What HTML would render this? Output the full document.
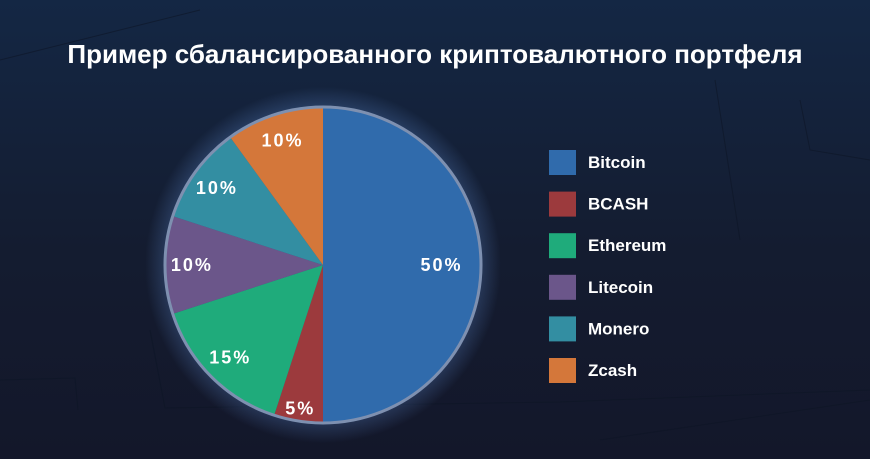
<!DOCTYPE html>
<html><head><meta charset="utf-8"><style>
body{margin:0;width:870px;height:459px;overflow:hidden;background:linear-gradient(180deg,#142744 0%,#141c30 55%,#13172a 100%);font-family:"Liberation Sans",sans-serif;position:relative}
svg{position:absolute;left:0;top:0}
</style></head><body>
<svg width="870" height="459" id="chart">
<defs>
<radialGradient id="glow" cx="50%" cy="50%" r="50%">
<stop offset="80%" stop-color="#5d8ad0" stop-opacity="0.45"/>
<stop offset="100%" stop-color="#5d8ad0" stop-opacity="0"/>
</radialGradient>
</defs>
<g stroke="#0e1626" stroke-width="1" fill="none" opacity="0.6">
<path d="M0 380 L75 378 L78 410"/><path d="M150 330 L165 408 L560 402 L870 390"/>
<path d="M715 80 L740 240 M800 100 L810 150 L870 160"/><path d="M0 60 L200 10"/><path d="M600 440 L870 400"/>
</g>
<circle cx="323" cy="265" r="178" fill="url(#glow)"/>
<text x="435" y="63" text-anchor="middle" fill="#ffffff" font-size="26" font-weight="bold">Пример сбалансированного криптовалютного портфеля</text>
<g id="slices"></g>
<circle cx="323" cy="265" r="158" fill="none" stroke="#7e90b0" stroke-width="3"/>
<g id="labels"></g>
<g id="legend"></g>
</svg>
<script>
const categories=["Bitcoin","BCASH","Ethereum","Litecoin","Monero","Zcash"];
const values=[50,5,15,10,10,10];
const colors=["#306bac","#9c3a3d","#1fab7b","#6b568a","#338ea2","#d4773a"];
const cx=323,cy=265,r=158;
const ns="http://www.w3.org/2000/svg";
const total=values.reduce((a,b)=>a+b,0);
const sg=document.getElementById('slices'),lg=document.getElementById('labels'),leg=document.getElementById('legend');
function pt(a,rad){return [cx+rad*Math.sin(a),cy-rad*Math.cos(a)];}
let acc=0;
values.forEach((v,i)=>{
  const a0=acc/total*2*Math.PI;acc+=v;const a1=acc/total*2*Math.PI;
  const p0=pt(a0,r),p1=pt(a1,r);
  const path=document.createElementNS(ns,'path');
  path.setAttribute('d',`M${cx} ${cy} L${p0[0]} ${p0[1]} A${r} ${r} 0 ${a1-a0>Math.PI?1:0} 1 ${p1[0]} ${p1[1]} Z`);
  path.setAttribute('fill',colors[i]);
  
  
  sg.appendChild(path);
  const am=(a0+a1)/2;const lr=v<=5?r*0.92:(v>=50?r*0.75:r*0.83);const lp=pt(am,lr);
  const t=document.createElementNS(ns,'text');
  t.setAttribute('x',lp[0]);t.setAttribute('y',lp[1]+6);
  t.setAttribute('text-anchor','middle');t.setAttribute('fill','#fff');
  t.setAttribute('font-size','18');t.setAttribute('font-weight','bold');
  t.setAttribute('letter-spacing','2');
  
  
  t.textContent=v+'%';lg.appendChild(t);
  const y=150+i*41.6;
  const sq=document.createElementNS(ns,'rect');
  sq.setAttribute('x',549);sq.setAttribute('y',y);sq.setAttribute('width',27);sq.setAttribute('height',25);
  sq.setAttribute('fill',colors[i]);
  
  
  leg.appendChild(sq);
  const lt=document.createElementNS(ns,'text');
  lt.setAttribute('x',588);lt.setAttribute('y',y+18);lt.setAttribute('fill','#fff');
  lt.setAttribute('font-size','17');lt.setAttribute('font-weight','600');
  
  
  lt.textContent=categories[i];leg.appendChild(lt);
});
</script>
</body></html>
